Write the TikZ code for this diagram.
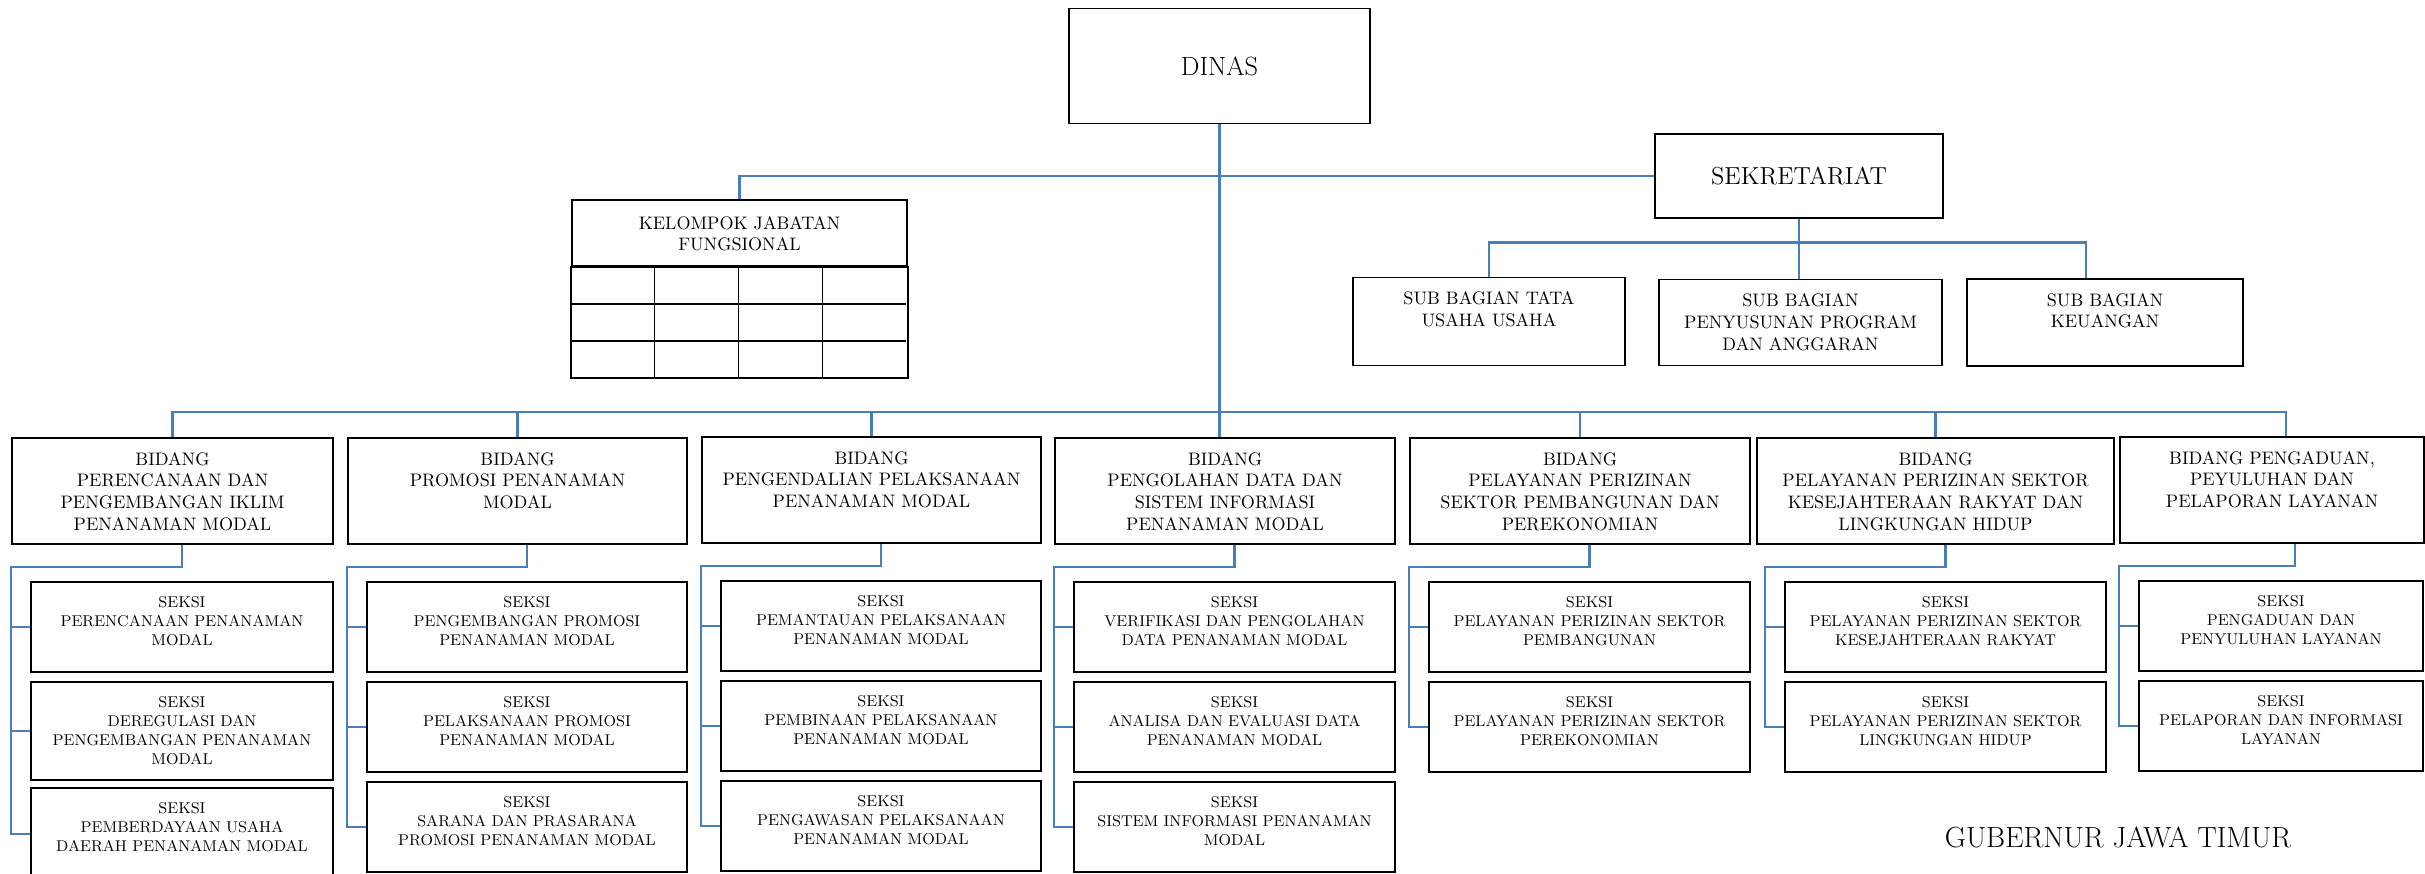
\documentclass[tikz,border=0pt]{standalone}
\usepackage{fontspec}
\usetikzlibrary{calc}

\definecolor{linkblue}{RGB}{74,126,187}

\tikzset{
  box/.style={draw=black, line width=1.1pt, inner sep=0pt},
  bidang/.style={box, minimum width=#1, minimum height=2.12cm},
  seksi/.style={box, minimum width=#1, minimum height=1.8cm},
  link/.style={draw=linkblue, line width=1.2pt},
  toptext/.style={anchor=north, yshift=-0.3cm, inner sep=0pt, align=center},
  bidtext/.style={toptext, font=\fontsize{10.3}{12.3}\selectfont},
  sektext/.style={toptext, font=\fontsize{8.9}{10.8}\selectfont},
}

\begin{document}
\begin{tikzpicture}[x=0.02cm, y=-0.02cm]
  \useasboundingbox (0,0) rectangle (2425,873);

  % top level
  \node[box, minimum width=6.02cm, minimum height=2.3cm, font=\fontsize{15}{18}\selectfont] (dinas) at (1219.5,66) {DINAS};
  \node[box, minimum width=5.76cm, minimum height=1.68cm, font=\fontsize{14}{17}\selectfont] (sek) at (1799,176) {SEKRETARIAT};
  \node[box, minimum width=6.7cm, minimum height=1.32cm, label={[bidtext, yshift=-0.04cm]north:{KELOMPOK JABATAN\\FUNGSIONAL}}] (kel) at (739.5,233) {};
  \draw[box] (kel.south west) rectangle ($(kel.south east)+(0,111)$);
  \draw[box, line width=0.9pt] ($(kel.south west)+(0,37)$) -- ++(335,0);
  \draw[box, line width=0.9pt] ($(kel.south west)+(0,74)$) -- ++(335,0);
  \draw[box, line width=0.6pt] ($(kel.south west)+(83.75,0)$) -- ++(0,111);
  \draw[box, line width=0.6pt] ($(kel.south west)+(167.5,0)$) -- ++(0,111);
  \draw[box, line width=0.6pt] ($(kel.south west)+(251.25,0)$) -- ++(0,111);

  % sub bagian
  \node[box, minimum width=5.44cm, minimum height=1.76cm, label={[bidtext]north:{SUB BAGIAN TATA\\USAHA USAHA}}] (tata) at (1489,321.5) {};
  \node[box, minimum width=5.66cm, minimum height=1.72cm, label={[bidtext]north:{SUB BAGIAN\\PENYUSUNAN PROGRAM\\DAN ANGGARAN}}] (peny) at (1800.5,322.5) {};
  \node[box, minimum width=5.52cm, minimum height=1.74cm, label={[bidtext]north:{SUB BAGIAN\\KEUANGAN}}] (keu) at (2105,322.5) {};

  % bidang
  \node[bidang=6.42cm, label={[bidtext]north:{BIDANG\\PERENCANAAN DAN\\PENGEMBANGAN IKLIM\\PENANAMAN MODAL}}] (b1) at (172.5,491) {};
  \node[bidang=6.78cm, label={[bidtext]north:{BIDANG\\PROMOSI PENANAMAN\\MODAL}}] (b2) at (517.5,491) {};
  \node[bidang=6.78cm, label={[bidtext]north:{BIDANG\\PENGENDALIAN PELAKSANAAN\\PENANAMAN MODAL}}] (b3) at (871.5,490) {};
  \node[bidang=6.8cm, label={[bidtext]north:{BIDANG\\PENGOLAHAN DATA DAN\\SISTEM INFORMASI\\PENANAMAN MODAL}}] (b4) at (1225,491) {};
  \node[bidang=6.8cm, label={[bidtext]north:{BIDANG\\PELAYANAN PERIZINAN\\SEKTOR PEMBANGUNAN DAN\\PEREKONOMIAN}}] (b5) at (1580,491) {};
  \node[bidang=7.14cm, label={[bidtext]north:{BIDANG\\PELAYANAN PERIZINAN SEKTOR\\KESEJAHTERAAN RAKYAT DAN\\LINGKUNGAN HIDUP}}] (b6) at (1935.5,491) {};
  \node[bidang=6.08cm, label={[bidtext]north:{BIDANG PENGADUAN,\\PEYULUHAN DAN\\PELAPORAN LAYANAN}}] (b7) at (2272,490) {};

  % seksi
  \node[seksi=6.04cm, label={[sektext]north:{SEKSI\\PERENCANAAN PENANAMAN\\MODAL}}] (s11) at (182,627) {};
  \node[seksi=6.04cm, minimum height=1.96cm, label={[sektext]north:{SEKSI\\DEREGULASI DAN\\PENGEMBANGAN PENANAMAN\\MODAL}}] (s12) at (182,731) {};
  \node[seksi=6.04cm, minimum height=1.84cm, label={[sektext]north:{SEKSI\\PEMBERDAYAAN USAHA\\DAERAH PENANAMAN MODAL}}] (s13) at (182,834) {};
  \node[seksi=6.4cm, label={[sektext]north:{SEKSI\\PENGEMBANGAN PROMOSI\\PENANAMAN MODAL}}] (s21) at (527,627) {};
  \node[seksi=6.4cm, label={[sektext]north:{SEKSI\\PELAKSANAAN PROMOSI\\PENANAMAN MODAL}}] (s22) at (527,727) {};
  \node[seksi=6.4cm, label={[sektext]north:{SEKSI\\SARANA DAN PRASARANA\\PROMOSI PENANAMAN MODAL}}] (s23) at (527,827) {};
  \node[seksi=6.4cm, label={[sektext]north:{SEKSI\\PEMANTAUAN PELAKSANAAN\\PENANAMAN MODAL}}] (s31) at (881,626) {};
  \node[seksi=6.4cm, label={[sektext]north:{SEKSI\\PEMBINAAN PELAKSANAAN\\PENANAMAN MODAL}}] (s32) at (881,726) {};
  \node[seksi=6.4cm, label={[sektext]north:{SEKSI\\PENGAWASAN PELAKSANAAN\\PENANAMAN MODAL}}] (s33) at (881,826) {};
  \node[seksi=6.42cm, label={[sektext]north:{SEKSI\\VERIFIKASI DAN PENGOLAHAN\\DATA PENANAMAN MODAL}}] (s41) at (1234.5,627) {};
  \node[seksi=6.42cm, label={[sektext]north:{SEKSI\\ANALISA DAN EVALUASI DATA\\PENANAMAN MODAL}}] (s42) at (1234.5,727) {};
  \node[seksi=6.42cm, label={[sektext]north:{SEKSI\\SISTEM INFORMASI PENANAMAN\\MODAL}}] (s43) at (1234.5,827) {};
  \node[seksi=6.42cm, label={[sektext]north:{SEKSI\\PELAYANAN PERIZINAN SEKTOR\\PEMBANGUNAN}}] (s51) at (1589.5,627) {};
  \node[seksi=6.42cm, label={[sektext]north:{SEKSI\\PELAYANAN PERIZINAN SEKTOR\\PEREKONOMIAN}}] (s52) at (1589.5,727) {};
  \node[seksi=6.42cm, label={[sektext]north:{SEKSI\\PELAYANAN PERIZINAN SEKTOR\\KESEJAHTERAAN RAKYAT}}] (s61) at (1945.5,627) {};
  \node[seksi=6.42cm, label={[sektext]north:{SEKSI\\PELAYANAN PERIZINAN SEKTOR\\LINGKUNGAN HIDUP}}] (s62) at (1945.5,727) {};
  \node[seksi=5.68cm, label={[sektext]north:{SEKSI\\PENGADUAN DAN\\PENYULUHAN LAYANAN}}] (s71) at (2281,626) {};
  \node[seksi=5.68cm, label={[sektext]north:{SEKSI\\PELAPORAN DAN INFORMASI\\LAYANAN}}] (s72) at (2281,726) {};

  \node[font=\fontsize{16.6}{20}\selectfont] (gub) at (2118,837) {GUBERNUR JAWA TIMUR};

  % links at the top
  \coordinate (bus) at (1220,412);
  \draw[link] (dinas.south) -- (dinas.south |- b4.north);
  \draw[link] (sek.west) -| (kel.north);
  \draw[link] (sek.south) -- (sek.south |- peny.north);
  \draw[link] (tata.north) -- ++(0,-34) -| ($(keu.north)+(-19,0)$);

  % bidang bus
  \draw[link] (b1.north) -- (b1.north |- bus) -| ($(b7.north)+(14,0)$);
  \draw[link] (b2.north) -- (b2.north |- bus);
  \draw[link] (b3.north) -- (b3.north |- bus);
  \draw[link] (b5.north) -- (b5.north |- bus);
  \draw[link] (b6.north) -- (b6.north |- bus);

  % seksi links
  \draw[link] (b1.south -| s11.north) -- ++(0,22) -| ($(s13.west)+(-19,0)$) -- (s13.west);
  \draw[link] (s11.west) -- ++(-19,0);
  \draw[link] (s12.west) -- ++(-19,0);
  \draw[link] (b2.south -| s21.north) -- ++(0,22) -| ($(s23.west)+(-19,0)$) -- (s23.west);
  \draw[link] (s21.west) -- ++(-19,0);
  \draw[link] (s22.west) -- ++(-19,0);
  \draw[link] (b3.south -| s31.north) -- ++(0,22) -| ($(s33.west)+(-19,0)$) -- (s33.west);
  \draw[link] (s31.west) -- ++(-19,0);
  \draw[link] (s32.west) -- ++(-19,0);
  \draw[link] (b4.south -| s41.north) -- ++(0,22) -| ($(s43.west)+(-19,0)$) -- (s43.west);
  \draw[link] (s41.west) -- ++(-19,0);
  \draw[link] (s42.west) -- ++(-19,0);
  \draw[link] (b5.south -| s51.north) -- ++(0,22) -| ($(s52.west)+(-19,0)$) -- (s52.west);
  \draw[link] (s51.west) -- ++(-19,0);
  \draw[link] (b6.south -| s61.north) -- ++(0,22) -| ($(s62.west)+(-19,0)$) -- (s62.west);
  \draw[link] (s61.west) -- ++(-19,0);
  \draw[link] ($(b7.south)+(23,0)$) -- ++(0,22) -| ($(s72.west)+(-19,0)$) -- (s72.west);
  \draw[link] (s71.west) -- ++(-19,0);
\end{tikzpicture}
\end{document}
